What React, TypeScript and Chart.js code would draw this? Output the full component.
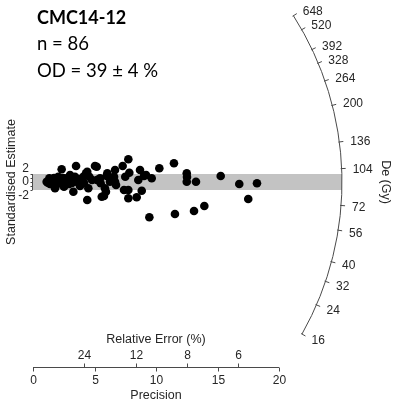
import React, { useEffect, useRef } from "react";
import { Chart, registerables } from "chart.js";

Chart.register(...registerables);

// ---- data ----
const precision = [
  3.5, 5.04, 5.18, 7.29, 7.75, 10.27, 11.46,
  2.33, 4.41, 4.31, 6.04, 6.67, 7.83, 8.7, 12.5,
  1.11, 1.33, 1.2, 1.52, 1.65, 1.98, 2.06, 2.2, 2.41, 2.74, 2.87, 3.01, 3.15, 3.41, 3.55, 3.76, 3.96,
  4.09, 4.58, 5.45, 5.5, 5.99, 6.26, 6.59, 6.67, 6.75, 7.5, 8.56, 9.02, 9.19, 9.65, 12.5, 13.25,
  1.79, 2.52, 3.28, 4.5, 4.41, 5.59, 5.77, 5.85, 5.93, 7.4, 7.75, 7.75, 8.43, 8.84, 9.46, 11.54, 13.09,
  15.26, 16.77, 18.21, 17.5, 13.93, 12.52,
  1.38, 1.71, 1.87, 2.11, 2.44, 2.6, 2.93, 3.17, 3.33, 3.66, 3.82, 4.15, 4.8, 5.2, 6.42,
];
const zScores = [
  4.0, 4.0, 3.83, 4.0, 5.68, 3.43, 4.68,
  3.18, 2.58, 2.18, 2.18, 3.0, 2.33, 3.0, 2.18,
  0.08, 0.93, -0.18, 0.5, -0.33, 0.08, 1.33, -0.33, -0.33, 0.93, 0.08, 1.75, 0.5, 1.33, 0.08, -0.33, 0.08,
  1.33, 1.33, 0.93, -0.33, 1.5, 0.08, 1.33, 0.08, -0.75, 1.33, 0.5, 1.5, 1.75, 0.93, 0.08, 0.08,
  -1.58, -1.18, -2.43, -1.58, -4.5, -3.68, -3.5, -1.58, -2.43, -2.0, -2.0, -4.08, -3.83, -2.18, -8.83, -8.0, -7.25,
  1.5, -0.5, -0.33, -4.25, -6.0, 1.25,
  -0.5, 1.0, -0.75, 0.5, 1.0, 0.0, -0.5, -0.25, 0.75, 0.75, -1.0, -0.25, 0.5, 0.5, 0.75,
];
const deTicks = [16, 24, 32, 40, 56, 72, 104, 136, 200, 264, 328, 392, 520, 648];
const centralDe = 91;
const arcPrecision = 25.12;
const precisionTicks = [0, 5, 10, 15, 20];
const relErrorTicks = [24, 12, 8, 6];
const zTicks = [-2, -1, 0, 1, 2];
const zLabels = [2, 0, -2];
const bandZ = 2;
const sampleName = "CMC14-12";
const nText = "n = 86";
const odText = "OD = 39 ± 4 %";
const xTitle = "Precision";
const relTitle = "Relative Error (%)";
const yTitle = "Standardised Estimate";
const deTitle = "De (Gy)";

const AXIS = "#4a4a4a";
const TXT = "#262626";
const SANS = "'Liberation Sans', Arial, sans-serif";

const radialPlugin = {
  id: "radialPlot",
  beforeDatasetsDraw(chart: any) {
    const { ctx, scales } = chart;
    const x = scales.x, y = scales.y;
    const x0 = x.getPixelForValue(0);
    const y0 = y.getPixelForValue(0);
    const R = x.getPixelForValue(arcPrecision) - x0;
    const yT = y.getPixelForValue(bandZ);
    const yB = y.getPixelForValue(-bandZ);
    ctx.save();
    ctx.fillStyle = "#c3c3c3";
    ctx.beginPath();
    ctx.moveTo(x0, yT);
    ctx.lineTo(x0 + Math.sqrt(R * R - (y0 - yT) ** 2), yT);
    ctx.lineTo(x0 + Math.sqrt(R * R - (yB - y0) ** 2), yB);
    ctx.lineTo(x0, yB);
    ctx.closePath();
    ctx.fill();
    ctx.restore();
  },
  afterDatasetsDraw(chart: any) {
    const { ctx, scales } = chart;
    const x = scales.x, y = scales.y;
    const x0 = x.getPixelForValue(0);
    const y0 = y.getPixelForValue(0);
    const pxPrec = x.getPixelForValue(1) - x0;
    const pxZ = y0 - y.getPixelForValue(1);
    const k = pxZ / pxPrec;
    const R = x.getPixelForValue(arcPrecision) - x0;
    const theta = (de: number) => Math.atan(Math.log(de / centralDe) * k);

    ctx.save();
    ctx.strokeStyle = AXIS;
    ctx.fillStyle = TXT;
    ctx.lineWidth = 1;

    // arc
    const tMin = theta(deTicks[0]);
    const tMax = theta(deTicks[deTicks.length - 1]);
    ctx.beginPath();
    ctx.arc(x0, y0, R, -tMax, -tMin, false);
    ctx.stroke();
    ctx.font = `12px ${SANS}`;
    ctx.textAlign = "left";
    ctx.textBaseline = "middle";
    deTicks.forEach((de) => {
      const t = theta(de);
      const c = Math.cos(t), s = Math.sin(t);
      ctx.beginPath();
      ctx.moveTo(x0 + (R - 1) * c, y0 - (R - 1) * s);
      ctx.lineTo(x0 + (R + 4) * c, y0 - (R + 4) * s);
      ctx.stroke();
      ctx.fillText(String(de), x0 + (R + 11) * c, y0 - (R + 11) * s + 1.5);
    });

    // bottom axis
    const yAx = 367.5;
    const xL = x.getPixelForValue(precisionTicks[0]);
    const xR = x.getPixelForValue(precisionTicks[precisionTicks.length - 1]);
    ctx.beginPath();
    ctx.moveTo(xL, yAx);
    ctx.lineTo(xR, yAx);
    ctx.stroke();
    ctx.textAlign = "center";
    precisionTicks.forEach((p) => {
      const px = Math.round(x.getPixelForValue(p)) + 0.5;
      ctx.beginPath();
      ctx.moveTo(px, yAx);
      ctx.lineTo(px, yAx + 4);
      ctx.stroke();
      ctx.fillText(String(p), px, yAx + 13);
    });
    relErrorTicks.forEach((r) => {
      const px = Math.round(x.getPixelForValue(100 / r)) + 0.5;
      ctx.beginPath();
      ctx.moveTo(px, yAx);
      ctx.lineTo(px, yAx - 4);
      ctx.stroke();
      ctx.fillText(String(r), px, yAx - 12);
    });
    const xMid = (xL + xR) / 2;
    ctx.font = `12.5px ${SANS}`;
    ctx.fillText(relTitle, xMid, yAx - 28);
    ctx.fillText(xTitle, xMid, yAx + 28);

    // z axis
    const zx = Math.round(x0) - 0.5;
    ctx.beginPath();
    ctx.moveTo(zx, y.getPixelForValue(-2));
    ctx.lineTo(zx, y.getPixelForValue(2));
    ctx.stroke();
    zTicks.forEach((z) => {
      const py = Math.round(y.getPixelForValue(z)) + 0.5;
      ctx.beginPath();
      ctx.moveTo(zx, py);
      ctx.lineTo(zx - 2, py);
      ctx.stroke();
    });
    ctx.font = `12px ${SANS}`;
    ctx.textAlign = "right";
    zLabels.forEach((z) => {
      const py = y0 + (y.getPixelForValue(z) - y0) * 1.65;
      ctx.fillText(String(z), x0 - 4, py);
    });

    // rotated titles
    ctx.font = `12.5px ${SANS}`;
    ctx.textAlign = "center";
    ctx.save();
    ctx.translate(12, y0);
    ctx.rotate(-Math.PI / 2);
    ctx.fillText(yTitle, 0, 0);
    ctx.restore();
    ctx.save();
    ctx.translate(385, y0);
    ctx.rotate(Math.PI / 2);
    ctx.fillText(deTitle, 0, 0);
    ctx.restore();

    // header text
    ctx.fillStyle = "#000";
    ctx.textAlign = "left";
    ctx.textBaseline = "alphabetic";
    ctx.font = `bold 18px Lato, 'Open Sans', sans-serif`;
    ctx.fillText(sampleName, 37, 24);
    ctx.font = `18.5px Lato, 'Open Sans', sans-serif`;
    ctx.fillText(nText, 37, 50);
    ctx.fillText(odText, 37, 77);
    ctx.restore();
  },
};

export default function App() {
  const ref = useRef<HTMLCanvasElement | null>(null);
  useEffect(() => {
    if (!ref.current) return;
    const chart = new Chart(ref.current, {
      type: "scatter",
      data: {
        datasets: [
          {
            data: precision.map((p, i) => ({ x: p, y: zScores[i] })),
            backgroundColor: "#000",
            borderColor: "#000",
            borderWidth: 0,
            pointRadius: 4.3,
            pointHoverRadius: 4.3,
          },
        ],
      },
      options: {
        animation: false,
        responsive: false,
        devicePixelRatio: 1,
        layout: { padding: { left: 33, right: 116, top: 10, bottom: 61 } },
        scales: {
          x: { type: "linear", min: 0, max: 20, display: false },
          y: { type: "linear", min: -42, max: 43, display: false },
        },
        plugins: { legend: { display: false }, tooltip: { enabled: false } },
        events: [],
      },
      plugins: [radialPlugin],
    });
    return () => chart.destroy();
  }, []);
  return (
    <div style={{ position: "absolute", left: 0, top: 0, width: 395, height: 411, background: "#fff" }}>
      <canvas ref={ref} width={395} height={411} />
    </div>
  );
}
